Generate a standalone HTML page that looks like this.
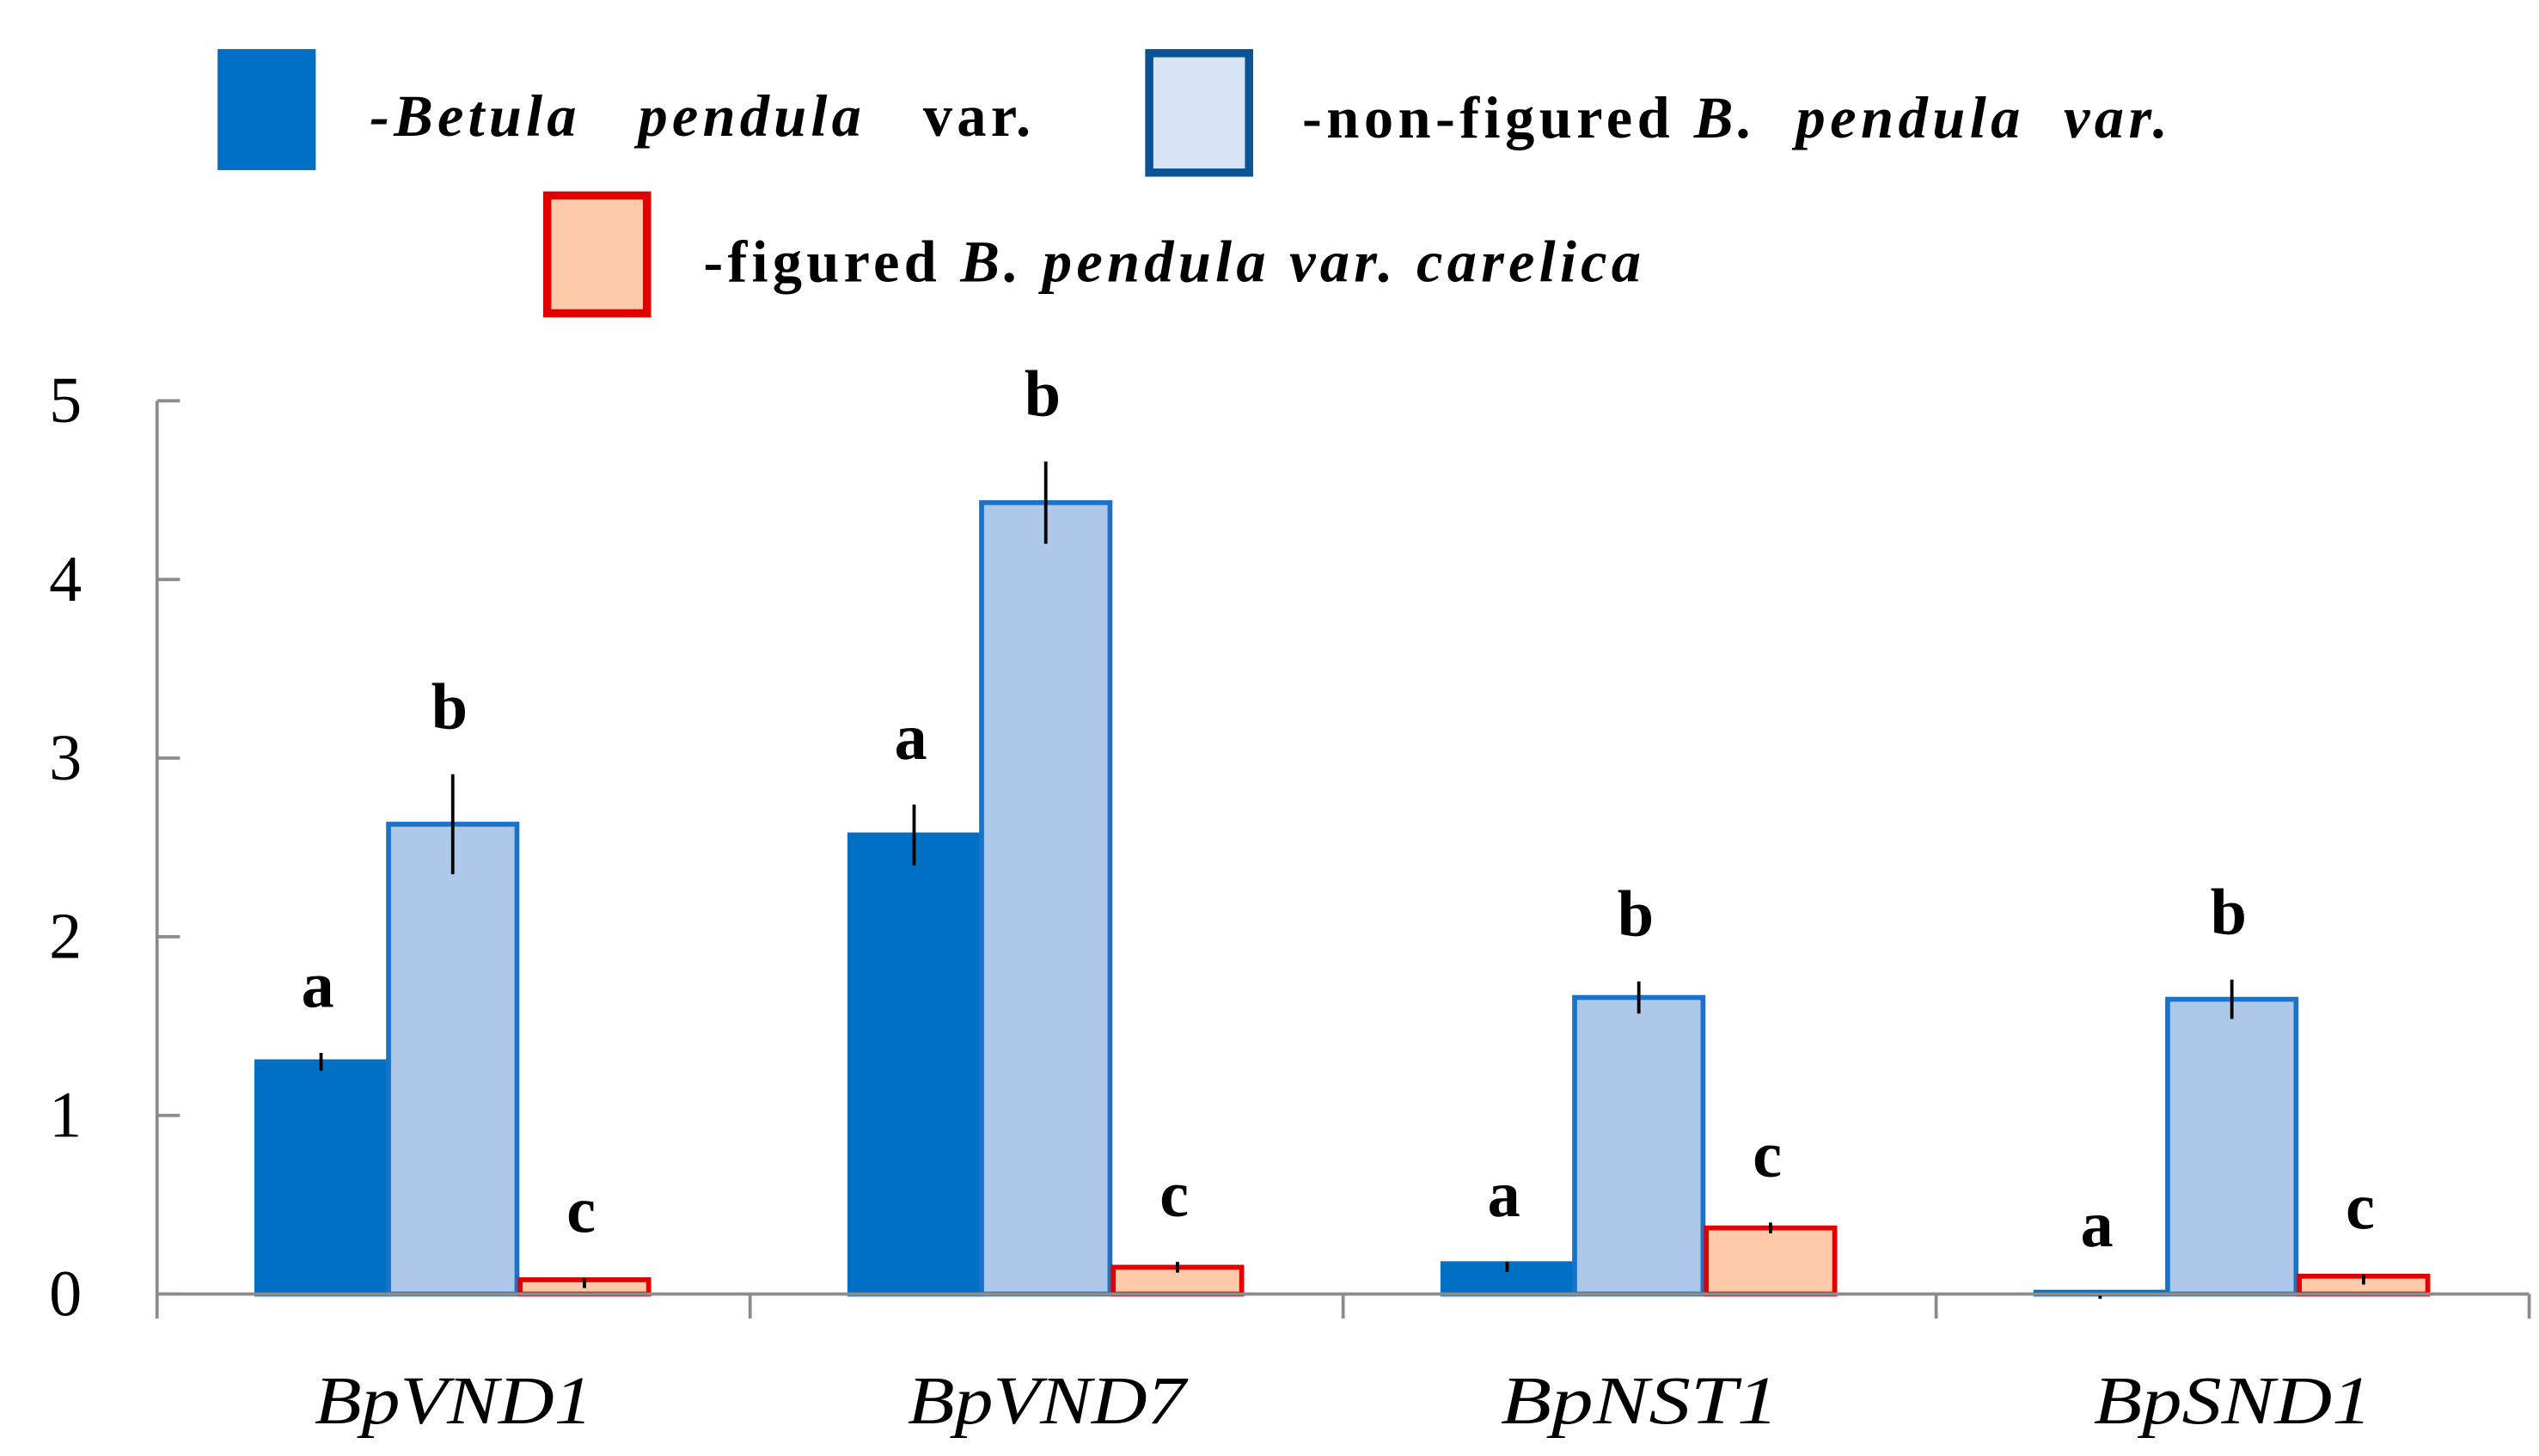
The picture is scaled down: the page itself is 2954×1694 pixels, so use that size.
<!DOCTYPE html>
<html><head><meta charset="utf-8"><style>
html,body{margin:0;padding:0;background:#fff;}
svg{display:block;}
text{font-family:"Liberation Serif",serif;fill:#000;}
</style></head><body>
<svg id="chart" width="2954" height="1694" viewBox="0 0 1552 890" preserveAspectRatio="none" xmlns="http://www.w3.org/2000/svg">
<g>
  <rect x="133" y="30" width="60" height="74" fill="#0070c4"/>
  <text x="226" y="83" font-size="36" font-weight="bold" font-style="italic" textLength="404" lengthAdjust="spacing">-Betula&#160;&#160; pendula&#160;&#160; <tspan font-style="normal">var.</tspan></text>
  <rect x="702.5" y="32.5" width="61" height="73" fill="#d6e4f4" stroke="#0b5394" stroke-width="5"/>
  <text x="796" y="84" font-size="36" font-weight="bold" textLength="529" lengthAdjust="spacing"><tspan font-style="normal">-non-figured</tspan> <tspan font-style="italic">B.&#160; pendula&#160; var.</tspan></text>
  <rect x="334.5" y="119.5" width="61" height="72" fill="#fdcbaa" stroke="#e00000" stroke-width="5"/>
  <text x="430" y="172" font-size="36" font-weight="bold" textLength="573" lengthAdjust="spacing">-figured <tspan font-style="italic">B. pendula var. carelica</tspan></text>
</g>
<g id="axes"></g>
<g id="bars"></g>
</svg>
<script>
const categories = ["BpVND1","BpVND7","BpNST1","BpSND1"];
const betulaValues = [1.30, 2.57, 0.17, 0.01];
const nonFiguredValues = [2.63, 4.43, 1.66, 1.65];
const figuredValues = [0.08, 0.15, 0.37, 0.10];
const betulaErrors = [0.05, 0.17, 0.01, 0.0];
const nonFiguredErrors = [0.28, 0.23, 0.09, 0.11];
const figuredErrors = [0.01, 0.03, 0.03, 0.01];
const betulaLetters = ["a","a","a","a"];
const nonFiguredLetters = ["b","b","b","b"];
const figuredLetters = ["c","c","c","c"];
const yTicks = [0,1,2,3,4,5];

const NS="http://www.w3.org/2000/svg";
const X0=96, X1=1546, Y0=791, Y5=245;
const yScale = v => Y0 - (v/5)*(Y0-Y5);
const groupW = (X1-X0)/categories.length;
const barW = 80.5;
const xBar = (i,s) => X0 + i*groupW + 60 + s*barW;
function mk(tag, attrs, parent){const e=document.createElementNS(NS,tag);for(const k in attrs)e.setAttribute(k,attrs[k]);parent.appendChild(e);return e;}
const axes=document.getElementById('axes'), bars=document.getElementById('bars');

let yl = mk('line',{x1:X0,y1:Y5,x2:X0,y2:806,stroke:'#8c8c8c','stroke-width':2},axes);


yTicks.forEach(t=>{
  const y=yScale(t);
  const tk=mk('line',{x1:X0,y1:y,x2:X0+14,y2:y,stroke:'#8c8c8c','stroke-width':2},axes);
  
  
  const tl=mk('text',{x:40,y:y+13,'font-size':40,'text-anchor':'middle'},axes);
  
  
  tl.textContent=t;
});

const series=[
 {vals:betulaValues,errs:betulaErrors,letters:betulaLetters,fill:'#0070c4',stroke:'#0070c4',name:'betula'},
 {vals:nonFiguredValues,errs:nonFiguredErrors,letters:nonFiguredLetters,fill:'#adc8e8',stroke:'#1a73c9',name:'non-figured'},
 {vals:figuredValues,errs:figuredErrors,letters:figuredLetters,fill:'#fdcbaa',stroke:'#e00000',name:'figured'}
];
categories.forEach((c,i)=>{
  series.forEach((s,si)=>{
    const v=s.vals[i], x=xBar(i,si), y=yScale(v);
    const r=mk('rect',{x:x+1,y:y,width:barW-2,height:Math.max(Y0-y,1),fill:s.fill,stroke:s.stroke,'stroke-width':3},bars);
    
    
    const e=s.errs[i];
    const el=mk('line',{x1:x+barW/2,y1:yScale(v+e),x2:x+barW/2,y2:yScale(v-e)+ (e<0.02?4:0),stroke:'#000','stroke-width':2},bars);
    
    
    const lt=mk('text',{x:x+barW/2-2,y:yScale(v+e)-28,'font-size':40,'font-weight':'bold','text-anchor':'middle'},bars);
    
    
    lt.textContent=s.letters[i];
  });
  const xl=mk('text',{x:X0+(i+0.5)*groupW-170/2,y:870,'font-size':42,'font-style':'italic',textLength:170,lengthAdjust:'spacingAndGlyphs'},axes);
  
  
  xl.textContent=c;
  const xt=mk('line',{x1:X0+(i+1)*groupW,y1:Y0,x2:X0+(i+1)*groupW,y2:806,stroke:'#8c8c8c','stroke-width':2},axes);
  
  
});
let xa=mk('line',{x1:X0,y1:Y0,x2:X1,y2:Y0,stroke:'#8c8c8c','stroke-width':2},bars);


</script>
</body></html>
